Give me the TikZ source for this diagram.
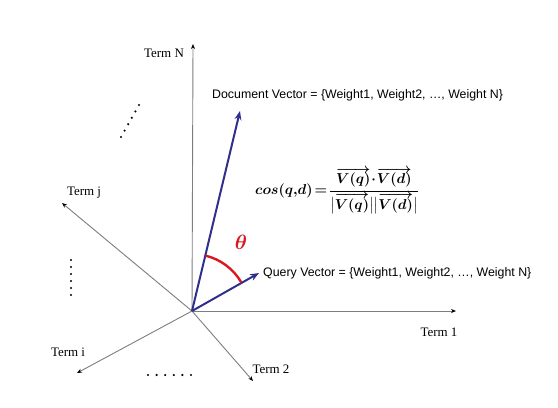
\documentclass[tikz,border=0pt]{standalone}
\usepackage{amsmath}
\usepackage{amssymb}
\usepackage{fontspec}
\setmainfont{Liberation Serif}
\setsansfont{Liberation Sans}
\usetikzlibrary{arrows.meta,calc}
\definecolor{axisgray}{RGB}{125,125,125}
\definecolor{vecblue}{RGB}{48,48,140}
\definecolor{arcred}{RGB}{215,25,32}
\begin{document}
\begin{tikzpicture}[x=1bp,y=-1bp]
        \tikzstyle{every node}+=[inner sep=0pt]
        \tikzstyle{axis}=[draw=axisgray, line width=0.9bp, -{Stealth[length=5bp,width=4bp,black]}]
        \tikzstyle{vector}=[draw=vecblue, line width=2bp, -{Stealth[length=9bp,width=7bp]}]
        \tikzstyle{termlabel}=[font=\fontsize{13}{15}\selectfont]
        \tikzstyle{veclabel}=[font=\sffamily\fontsize{12.4}{14}\selectfont, anchor=west]
        \useasboundingbox (0,0) rectangle (558,407);
        \coordinate (O) at (192,311);
        \coordinate (tipN) at (193,44);
        \coordinate (tip1) at (456,311);
        \coordinate (tip2) at (253,381);
        \coordinate (tipj) at (62,203);
        \coordinate (tipi) at (77,373);
        \coordinate (docTip) at (240,111);
        \coordinate (qryTip) at (259,273);
        % axes
        \draw [axis] (O) -- (tipN);
        \draw [axis] (O) -- (tip1);
        \draw [axis] (O) -- (tip2);
        \draw [axis] (O) -- (tipj);
        \draw [axis] (O) -- (tipi);
        \node [termlabel] (lblN) at (164,53) {Term N};
        \node [termlabel] (lbl1) at (439,332) {Term 1};
        \node [termlabel] (lbl2) at (271,369) {Term 2};
        \node [termlabel] (lblj) at (84,193) {Term j};
        \node [termlabel] (lbli) at (68,352) {Term i};
        % dots for the other terms
        \foreach \k in {0,...,5}
            \fill (121+3.6*\k,137-6.4*\k) circle (1.2);
        \foreach \k in {0,...,5}
            \fill (71,260+7*\k) circle (1.2);
        \foreach \k in {0,...,5}
            \fill (148+8.6*\k,375) circle (1.2);
        % vectors
        \draw [vector] (O) -- (docTip);
        \draw [vector] (O) -- (qryTip);
        \node [veclabel] (lblDoc) at (212,95) {Document Vector = \{Weight1, Weight2, \dots, Weight N\}};
        \node [veclabel] (lblQry) at (263,273) {Query Vector = \{Weight1, Weight2, \dots, Weight N\}};
        % angle
        \draw [arcred, line width=2.4bp] ($(O)+(-30:57)$) arc (-30:-76:57);
        \node [text=arcred, font=\fontsize{20}{22}\selectfont\boldmath] (theta) at (241,242) {$\theta$};
        \node [font=\fontsize{14}{17}\selectfont\boldmath] (cosine) at (337,191)
            {$cos(q,\!d)\mkern2mu{=}\mkern2mu\dfrac{\overrightarrow{V(q)}\!\cdot\!\overrightarrow{V(d)}}{\big|\overrightarrow{V(q)}\big|\big|\overrightarrow{V(d)}\big|}$};
\end{tikzpicture}
\end{document}
